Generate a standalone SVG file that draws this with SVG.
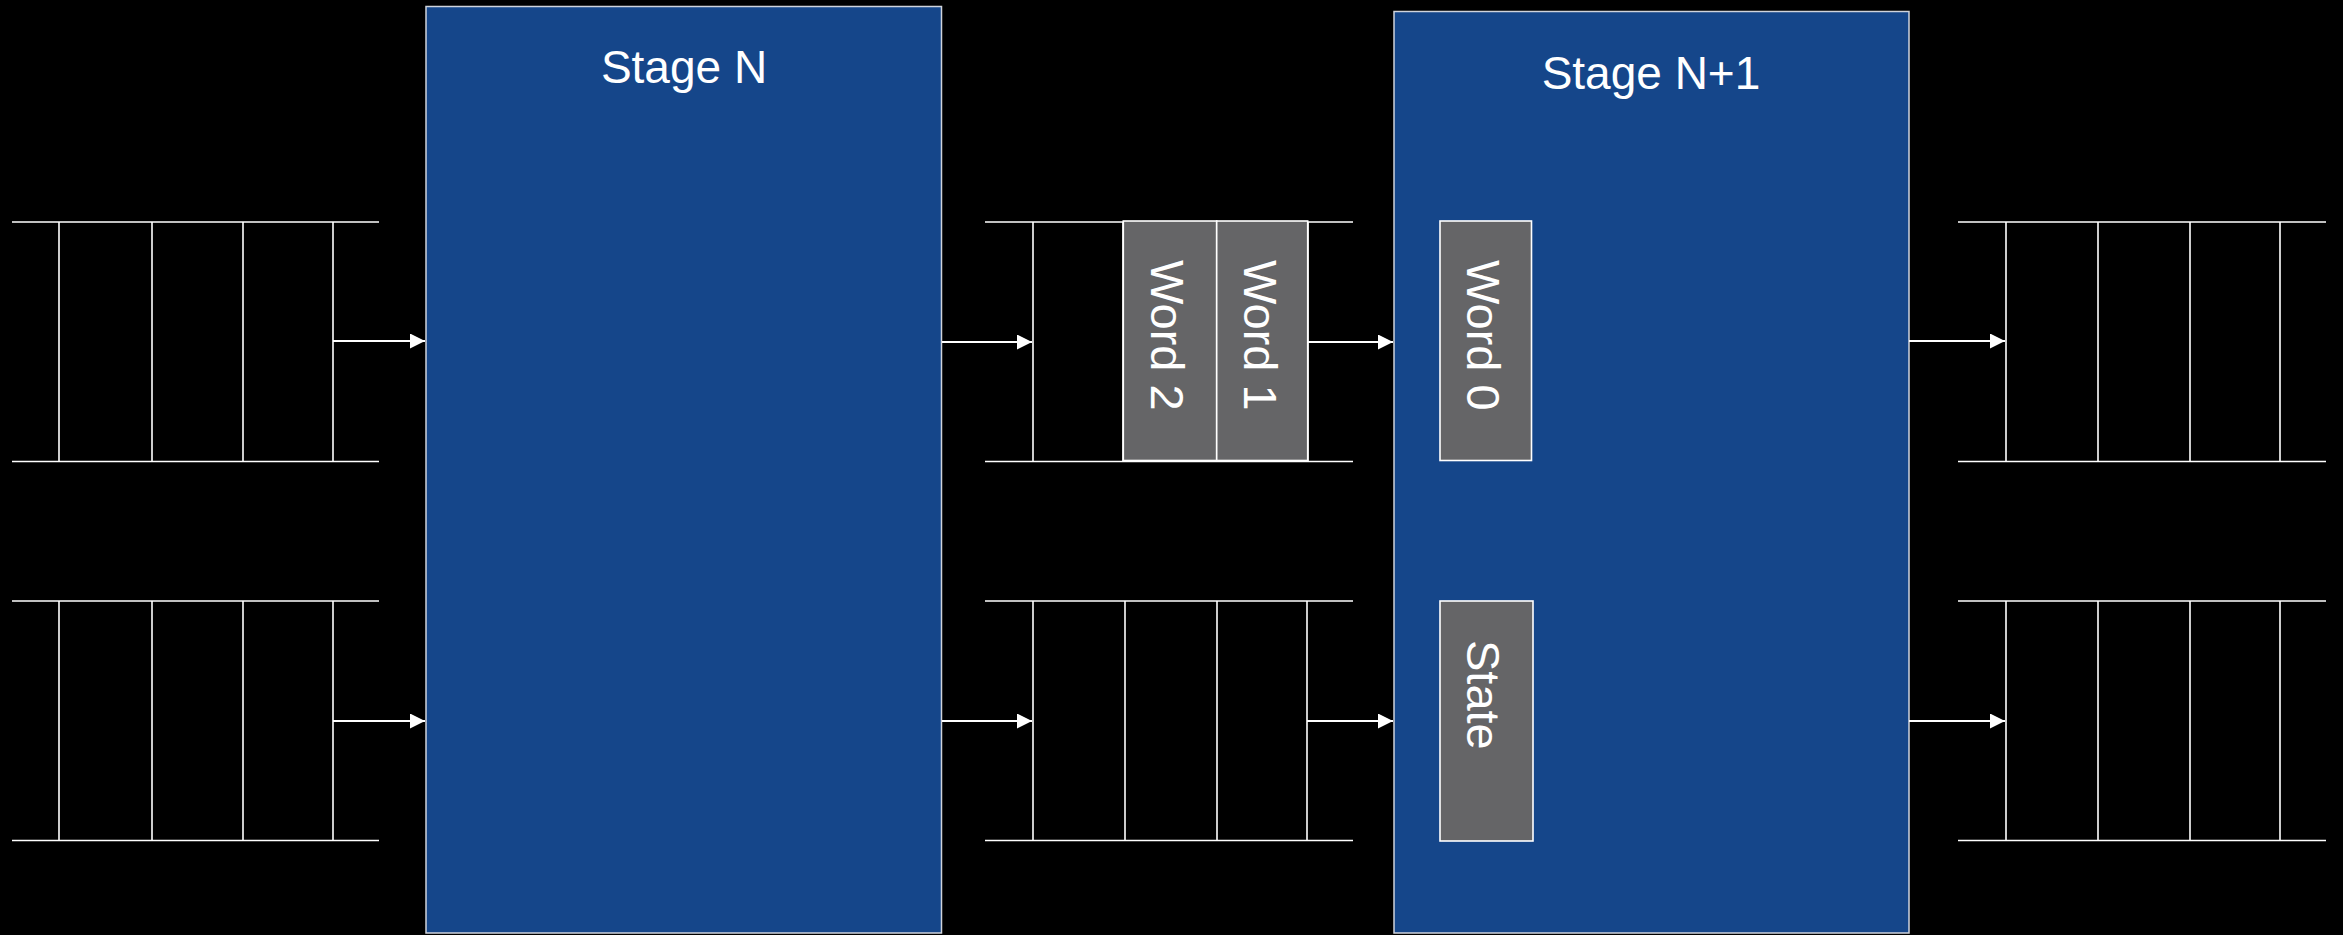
<svg xmlns="http://www.w3.org/2000/svg" width="2343" height="935" viewBox="0 0 2343 935">
<style>
.stage{fill:#15468A;stroke:#D0D4DC;stroke-width:1.5}
.q{stroke:#FFFFFF;stroke-width:1.6;fill:none}
.word{fill:#656567;stroke:#FFFFFF;stroke-width:1.6}
.title{font-family:"Liberation Sans",Arial,sans-serif;font-size:46px;fill:#FFFFFF;text-anchor:middle}
.wt{font-family:"Liberation Sans",Arial,sans-serif;font-size:47px;fill:#FFFFFF;text-anchor:start}
.conn{stroke:#FFFFFF;stroke-width:1.8;fill:none}
</style>
<defs>
<marker id="arr" markerUnits="userSpaceOnUse" markerWidth="16" markerHeight="16" refX="15" refY="7.5" orient="auto">
<path d="M0,0 L15,7.5 L0,15 Z" fill="#FFFFFF"/>
</marker>
</defs>
<rect x="0" y="0" width="2343" height="935" fill="#000000"/>

<g id="stage-n">
<rect class="stage" x="426" y="6.5" width="515.5" height="926.5"/>
<text class="title" x="684" y="83">Stage N</text>
</g>

<g id="stage-n1">
<rect class="stage" x="1394" y="11.5" width="515" height="921.5"/>
<text class="title" x="1651" y="89">Stage N+1</text>
</g>

<g id="queue-in-top">
<path class="q" d="M12,222 H379 M12,461.5 H379 M59,222 V461.5 M152,222 V461.5 M243,222 V461.5 M333,222 V461.5"/>
</g>
<g id="queue-in-bottom">
<path class="q" d="M12,601 H379 M12,840.5 H379 M59,601 V840.5 M152,601 V840.5 M243,601 V840.5 M333,601 V840.5"/>
</g>

<g id="queue-mid-top">
<path class="q" d="M985,222 H1353 M985,461.5 H1353 M1033,222 V461.5 M1123,222 V461.5 M1217,222 V461.5 M1308,222 V461.5"/>
</g>
<g id="word2">
<rect class="word" x="1123.3" y="221" width="93.4" height="239.5"/>
<text class="wt" transform="translate(1151,260) rotate(90)">Word 2</text>
</g>
<g id="word1">
<rect class="word" x="1216.7" y="221" width="91" height="239.5"/>
<text class="wt" transform="translate(1243.5,260) rotate(90)">Word 1</text>
</g>

<g id="queue-mid-bottom">
<path class="q" d="M985,601 H1353 M985,840.5 H1353 M1033,601 V840.5 M1125,601 V840.5 M1217,601 V840.5 M1307,601 V840.5"/>
</g>

<g id="word0">
<rect class="word" x="1440" y="221" width="91.5" height="239.5"/>
<text class="wt" transform="translate(1467,260) rotate(90)">Word 0</text>
</g>
<g id="state">
<rect class="word" x="1440" y="601" width="93" height="240"/>
<text class="wt" transform="translate(1467,640) rotate(90)">State</text>
</g>

<g id="queue-out-top">
<path class="q" d="M1958,222 H2326 M1958,461.5 H2326 M2006,222 V461.5 M2098,222 V461.5 M2190,222 V461.5 M2280,222 V461.5"/>
</g>
<g id="queue-out-bottom">
<path class="q" d="M1958,601 H2326 M1958,840.5 H2326 M2006,601 V840.5 M2098,601 V840.5 M2190,601 V840.5 M2280,601 V840.5"/>
</g>

<g id="connectors">
<line class="conn" x1="333" y1="341" x2="425" y2="341" marker-end="url(#arr)"/>
<line class="conn" x1="333" y1="721" x2="425" y2="721" marker-end="url(#arr)"/>
<line class="conn" x1="942" y1="342" x2="1032" y2="342" marker-end="url(#arr)"/>
<line class="conn" x1="942" y1="721" x2="1032" y2="721" marker-end="url(#arr)"/>
<line class="conn" x1="1308" y1="342" x2="1393" y2="342" marker-end="url(#arr)"/>
<line class="conn" x1="1307" y1="721" x2="1393" y2="721" marker-end="url(#arr)"/>
<line class="conn" x1="1909" y1="341" x2="2005" y2="341" marker-end="url(#arr)"/>
<line class="conn" x1="1909" y1="721" x2="2005" y2="721" marker-end="url(#arr)"/>
</g>
</svg>
